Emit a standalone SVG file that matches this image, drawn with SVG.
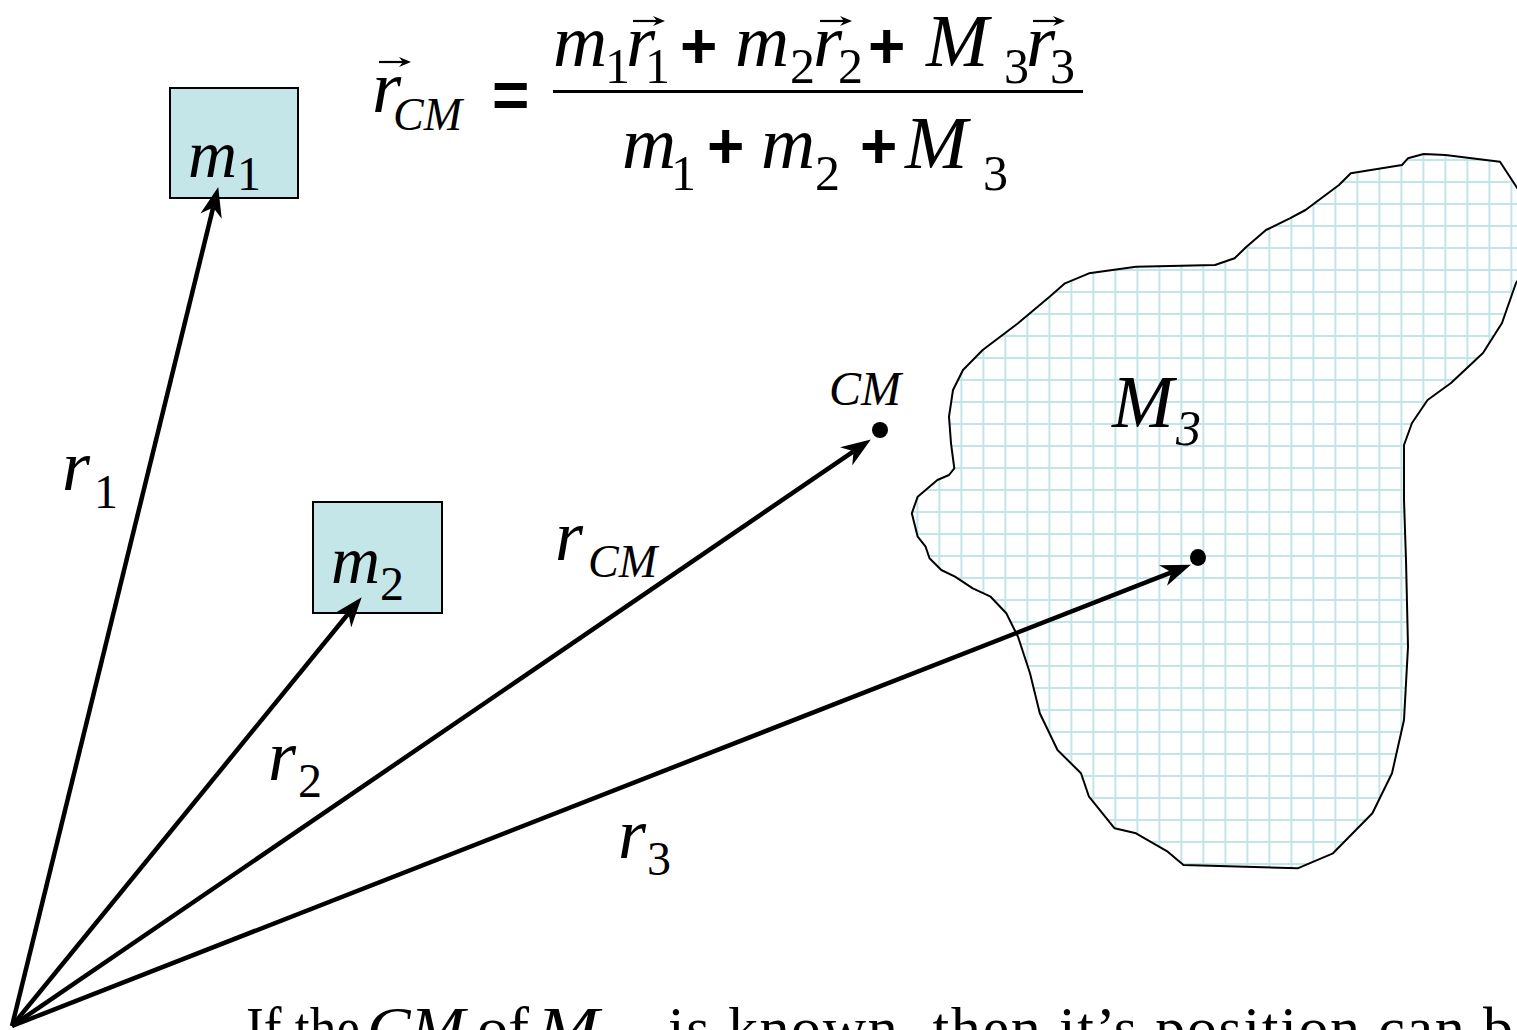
<svg xmlns="http://www.w3.org/2000/svg" width="1517" height="1030" viewBox="0 0 1517 1030" font-family="Liberation Serif">
<defs>
<marker id="ah" markerUnits="userSpaceOnUse" viewBox="0 0 30 22" refX="9" refY="11" markerWidth="30" markerHeight="22" orient="auto">
<path d="M0,0 L30,11 L0,22 L9,11 Z" fill="#000"/>
</marker>
<marker id="sa" markerUnits="userSpaceOnUse" viewBox="0 0 12 10" refX="4" refY="5" markerWidth="12" markerHeight="10" orient="auto">
<path d="M0,0 L12,5 L0,10 L4,5 Z" fill="#000"/>
</marker>
<pattern id="grid" patternUnits="userSpaceOnUse" x="938.4" y="159" width="22" height="22">
<rect x="0" y="0" width="22" height="22" fill="#fff"/>
<rect x="0" y="0" width="2" height="22" fill="#c2e5e8"/>
<rect x="0" y="0" width="22" height="2" fill="#c2e5e8"/>
</pattern>
</defs>
<rect width="1517" height="1030" fill="#fff"/>

<g id="formula" fill="#000">
<text font-family="Liberation Serif" font-style="italic" x="372" y="112" font-size="75">r</text>
<path d="M379,62 L403,62" stroke="#000" stroke-width="2.2" fill="none" marker-end="url(#sa)"/>
<text font-family="Liberation Serif" font-style="italic" x="393" y="130" font-size="46">CM</text>
<text font-family="Liberation Sans" font-weight="bold" x="492" y="117" font-size="64">=</text>
<line x1="553" y1="91.5" x2="1083" y2="91.5" stroke="#000" stroke-width="3"/>
<text font-family="Liberation Serif" font-style="italic" x="553" y="66" font-size="75">m</text>
<text font-family="Liberation Serif" x="605" y="83" font-size="50">1</text>
<text font-family="Liberation Serif" font-style="italic" x="626" y="66" font-size="75">r</text>
<path d="M633,21 L657,21" stroke="#000" stroke-width="2.2" fill="none" marker-end="url(#sa)"/>
<text font-family="Liberation Serif" x="645" y="83" font-size="50">1</text>
<text font-family="Liberation Sans" font-weight="bold" x="680" y="68" font-size="64">+</text>
<text font-family="Liberation Serif" font-style="italic" x="735" y="66" font-size="75">m</text>
<text font-family="Liberation Serif" x="790" y="83" font-size="50">2</text>
<text font-family="Liberation Serif" font-style="italic" x="813" y="66" font-size="75">r</text>
<path d="M820,21 L844,21" stroke="#000" stroke-width="2.2" fill="none" marker-end="url(#sa)"/>
<text font-family="Liberation Serif" x="838" y="83" font-size="50">2</text>
<text font-family="Liberation Sans" font-weight="bold" x="868" y="68" font-size="64">+</text>
<text font-family="Liberation Serif" font-style="italic" x="926" y="66" font-size="75">M</text>
<text font-family="Liberation Serif" x="1004" y="83" font-size="50">3</text>
<text font-family="Liberation Serif" font-style="italic" x="1026" y="66" font-size="75">r</text>
<path d="M1033,21 L1057,21" stroke="#000" stroke-width="2.2" fill="none" marker-end="url(#sa)"/>
<text font-family="Liberation Serif" x="1050" y="83" font-size="50">3</text>
<text font-family="Liberation Serif" font-style="italic" x="622" y="168" font-size="75">m</text>
<text font-family="Liberation Serif" x="671" y="190" font-size="50">1</text>
<text font-family="Liberation Sans" font-weight="bold" x="707" y="168" font-size="64">+</text>
<text font-family="Liberation Serif" font-style="italic" x="761" y="168" font-size="75">m</text>
<text font-family="Liberation Serif" x="815" y="190" font-size="50">2</text>
<text font-family="Liberation Sans" font-weight="bold" x="860" y="168" font-size="64">+</text>
<text font-family="Liberation Serif" font-style="italic" x="905" y="168" font-size="75">M</text>
<text font-family="Liberation Serif" x="983" y="190" font-size="50">3</text>
</g>

<g id="M3-body">
<path d="M1500,161.7 L1525,200 L1525,270 L1516,283 L1502,323 L1483,353 L1451,383 L1427.6,400 L1412,423 L1404,445 L1404,500 L1406,560 L1408,646.7 L1404,720 L1392,773.3 L1372.4,813.3 L1333,853.3 L1297.6,868.3 L1183.5,865 L1167.7,851.7 L1136,833.3 L1114.6,828.3 L1089,796.7 L1081,773.3 L1057.5,750 L1039.8,713.3 L1030,673.3 L1018,636.7 L1006.3,613.3 L990.6,596.7 L972.8,588.3 L955,576.7 L941.3,570 L929.5,558.3 L925.6,546.7 L917.7,536.7 L911.8,513.3 L917.7,496.7 L937.4,480 L949,475 L954.3,468.3 L951,443.3 L949,416.7 L953,390 L963,370 L982.7,350 L1018,323.3 L1049.6,296.7 L1065,283.3 L1089,273.3 L1136,266.7 L1215,265 L1234.6,258.3 L1246.5,246.7 L1266,230 L1289.8,218.3 L1305.5,210 L1339,185 L1350.8,173.3 L1402,165 L1407.9,158.3 L1423.6,154 L1445.3,155 Z" fill="url(#grid)" stroke="#000" stroke-width="2" stroke-linejoin="round"/>
<text font-family="Liberation Serif" font-style="italic" x="1112" y="427" font-size="74">M</text>
<text font-family="Liberation Serif" font-style="italic" x="1176" y="445" font-size="50">3</text>
<ellipse cx="1198" cy="557.5" rx="8" ry="8.5" fill="#000"/>
</g>

<g id="m1">
<rect x="170" y="88" width="128" height="110" fill="#c5e6e8" stroke="#000" stroke-width="2"/>
<text font-family="Liberation Serif" font-style="italic" x="188" y="177" font-size="68">m</text>
<text font-family="Liberation Serif" x="237" y="190" font-size="48">1</text>
</g>

<g id="m2">
<rect x="313" y="502" width="129" height="111" fill="#c5e6e8" stroke="#000" stroke-width="2"/>
<text font-family="Liberation Serif" font-style="italic" x="331" y="583" font-size="68">m</text>
<text font-family="Liberation Serif" x="380" y="600" font-size="48">2</text>
</g>

<g id="CM">
<text font-family="Liberation Serif" font-style="italic" x="829" y="405" font-size="48">CM</text>
<circle cx="880" cy="430" r="8" fill="#000"/>
</g>

<g id="connectors" stroke="#000" stroke-width="4.5" fill="none">
<path d="M12,1026 L213.2,207.4" marker-end="url(#ah)"/>
<path d="M12,1026 L348.4,613.5" marker-end="url(#ah)"/>
<path d="M12,1026 L853.5,451.3" marker-end="url(#ah)"/>
<path d="M12,1026 L1171.4,572.3" marker-end="url(#ah)"/>
</g>

<g id="labels">
<text font-family="Liberation Serif" font-style="italic" x="62" y="490" font-size="72">r</text>
<text font-family="Liberation Serif" x="94" y="508" font-size="48">1</text>
<text font-family="Liberation Serif" font-style="italic" x="268" y="780" font-size="72">r</text>
<text font-family="Liberation Serif" x="298" y="797" font-size="48">2</text>
<text font-family="Liberation Serif" font-style="italic" x="555" y="560" font-size="72">r</text>
<text font-family="Liberation Serif" font-style="italic" x="588" y="577" font-size="46">CM</text>
<text font-family="Liberation Serif" font-style="italic" x="618" y="858" font-size="72">r</text>
<text font-family="Liberation Serif" x="647" y="875" font-size="48">3</text>
</g>

<g id="caption">
<text font-family="Liberation Serif" x="246" y="1048" font-size="60" textLength="114" lengthAdjust="spacingAndGlyphs">If the</text>
<text font-family="Liberation Serif" font-style="italic" x="367" y="1048" font-size="60" textLength="98" lengthAdjust="spacingAndGlyphs">CM</text>
<text font-family="Liberation Serif" x="477" y="1048" font-size="60" textLength="52" lengthAdjust="spacingAndGlyphs">of</text>
<text font-family="Liberation Serif" font-style="italic" x="537" y="1048" font-size="60" textLength="62" lengthAdjust="spacingAndGlyphs">M</text>
<text font-family="Liberation Serif" x="615" y="1062" font-size="40">3</text>
<text font-family="Liberation Serif" x="668" y="1048" font-size="60" textLength="845" lengthAdjust="spacing">is known, then it&#8217;s position can b</text>
</g>
</svg>
